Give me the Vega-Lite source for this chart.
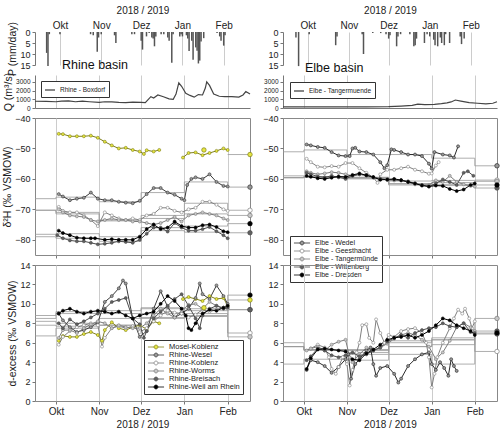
{
"$schema":"https://vega.github.io/schema/vega-lite/v6.json",
"padding":{"left":2,"top":5,"right":2,"bottom":0},
"bounds":"flush",
"columns":2,
"spacing":{"row":10,"column":33},
"resolve":{"scale":{"stroke":"independent","fill":"independent","x":"independent","y":"independent"},"legend":{"stroke":"independent","fill":"independent"}},
"config":{
 "font":"Liberation Sans",
 "view":{"stroke":"#888","strokeWidth":1},
 "axis":{"labelFont":"Liberation Sans","titleFont":"Liberation Sans","labelFontSize":9,"labelColor":"#222","titleFontSize":10.5,"titleFontWeight":"normal","titleColor":"#222","domainColor":"#777","tickColor":"#777","tickSize":3,"gridColor":"#ccc","grid":false,"labelPadding":2},
 "axisY":{"titlePadding":2},
 "legend":{"labelFont":"Liberation Sans","labelColor":"#222"},
 "title":{"font":"Liberation Sans"}
},
"datasets":{
"rp":[{"t":"2018-09-21","p":9.5},{"t":"2018-09-22","p":15.5},{"t":"2018-09-23","p":1},{"t":"2018-10-01","p":1},{"t":"2018-10-24","p":1},{"t":"2018-10-26","p":1.5},{"t":"2018-10-29","p":9},{"t":"2018-10-30","p":2.5},{"t":"2018-11-01","p":1},{"t":"2018-11-11","p":1.5},{"t":"2018-11-12","p":5},{"t":"2018-11-24","p":1},{"t":"2018-11-26","p":1},{"t":"2018-12-01","p":4},{"t":"2018-12-02","p":8},{"t":"2018-12-05","p":2},{"t":"2018-12-07","p":0.5},{"t":"2018-12-09","p":2.5},{"t":"2018-12-10","p":3},{"t":"2018-12-11","p":6.5},{"t":"2018-12-12","p":2},{"t":"2018-12-16","p":1},{"t":"2018-12-18","p":1},{"t":"2018-12-21","p":2.5},{"t":"2018-12-22","p":4},{"t":"2018-12-24","p":14},{"t":"2018-12-25","p":1},{"t":"2018-12-30","p":2},{"t":"2018-12-31","p":1},{"t":"2019-01-01","p":2},{"t":"2019-01-04","p":1.5},{"t":"2019-01-05","p":3},{"t":"2019-01-06","p":8.6},{"t":"2019-01-08","p":4},{"t":"2019-01-09","p":12.6},{"t":"2019-01-11","p":7},{"t":"2019-01-12","p":8.5},{"t":"2019-01-13","p":14.3},{"t":"2019-01-14","p":13},{"t":"2019-01-15","p":4.3},{"t":"2019-01-17","p":2.8},{"t":"2019-01-27","p":0.5},{"t":"2019-01-29","p":2},{"t":"2019-01-30","p":4},{"t":"2019-02-01","p":6.2},{"t":"2019-02-02","p":1.5}],
"ep":[{"t":"2018-09-22","p":2.5},{"t":"2018-09-24","p":15.5},{"t":"2018-10-02","p":1},{"t":"2018-10-22","p":6},{"t":"2018-10-23","p":2},{"t":"2018-11-11","p":1},{"t":"2018-11-12","p":10},{"t":"2018-11-19","p":0.5},{"t":"2018-11-25","p":0.5},{"t":"2018-11-29","p":1},{"t":"2018-12-01","p":3},{"t":"2018-12-02","p":1.5},{"t":"2018-12-07","p":6.5},{"t":"2018-12-08","p":2},{"t":"2018-12-10","p":1},{"t":"2018-12-17","p":1},{"t":"2018-12-20","p":6.5},{"t":"2018-12-21","p":6},{"t":"2018-12-22","p":3},{"t":"2018-12-28","p":5},{"t":"2018-12-30","p":1},{"t":"2019-01-01","p":2},{"t":"2019-01-04","p":3.5},{"t":"2019-01-05","p":6},{"t":"2019-01-07","p":6.5},{"t":"2019-01-09","p":2.5},{"t":"2019-01-10","p":5},{"t":"2019-01-12","p":6},{"t":"2019-01-13","p":1},{"t":"2019-01-16","p":5},{"t":"2019-01-24","p":2},{"t":"2019-01-25","p":5.5},{"t":"2019-01-27","p":3}],
"rq":[{"t":"2018-09-16","q":780},{"t":"2018-09-24","q":760},{"t":"2018-10-01","q":720},{"t":"2018-10-05","q":800},{"t":"2018-10-10","q":820},{"t":"2018-10-15","q":720},{"t":"2018-10-20","q":780},{"t":"2018-10-25","q":720},{"t":"2018-11-01","q":650},{"t":"2018-11-05","q":720},{"t":"2018-11-10","q":700},{"t":"2018-11-15","q":640},{"t":"2018-11-20","q":620},{"t":"2018-11-25","q":680},{"t":"2018-12-01","q":640},{"t":"2018-12-04","q":620},{"t":"2018-12-08","q":1300},{"t":"2018-12-10","q":1150},{"t":"2018-12-13","q":1500},{"t":"2018-12-17","q":1300},{"t":"2018-12-21","q":1050},{"t":"2018-12-24","q":1000},{"t":"2018-12-26","q":1600},{"t":"2018-12-28","q":2900},{"t":"2018-12-30","q":2500},{"t":"2019-01-02","q":1700},{"t":"2019-01-05","q":1450},{"t":"2019-01-08","q":1250},{"t":"2019-01-11","q":1550},{"t":"2019-01-14","q":1500},{"t":"2019-01-16","q":2300},{"t":"2019-01-17","q":3000},{"t":"2019-01-19","q":2600},{"t":"2019-01-22","q":1600},{"t":"2019-01-26","q":1350},{"t":"2019-01-30","q":1300},{"t":"2019-02-04","q":1300},{"t":"2019-02-09","q":1250},{"t":"2019-02-12","q":1500},{"t":"2019-02-14","q":1900},{"t":"2019-02-17","q":1600}],
"eq":[{"t":"2018-09-16","q":120},{"t":"2018-10-15","q":130},{"t":"2018-11-15","q":130},{"t":"2018-12-01","q":150},{"t":"2018-12-10","q":220},{"t":"2018-12-18","q":300},{"t":"2018-12-22","q":450},{"t":"2018-12-27","q":380},{"t":"2019-01-03","q":420},{"t":"2019-01-08","q":500},{"t":"2019-01-12","q":600},{"t":"2019-01-15","q":700},{"t":"2019-01-18","q":920},{"t":"2019-01-22","q":800},{"t":"2019-01-28","q":620},{"t":"2019-02-03","q":550},{"t":"2019-02-09","q":480},{"t":"2019-02-14","q":550},{"t":"2019-02-17","q":720}],
"rh":[
{"s":"Mosel-Koblenz","t":"2018-10-03","h":-45.2},{"s":"Mosel-Koblenz","t":"2018-10-06","h":-45.3},{"s":"Mosel-Koblenz","t":"2018-10-11","h":-46},{"s":"Mosel-Koblenz","t":"2018-10-16","h":-46},{"s":"Mosel-Koblenz","t":"2018-10-21","h":-46},{"s":"Mosel-Koblenz","t":"2018-10-26","h":-45.8},{"s":"Mosel-Koblenz","t":"2018-10-31","h":-46.5},{"s":"Mosel-Koblenz","t":"2018-11-05","h":-47.8},{"s":"Mosel-Koblenz","t":"2018-11-10","h":-49},{"s":"Mosel-Koblenz","t":"2018-11-15","h":-50},{"s":"Mosel-Koblenz","t":"2018-11-20","h":-49.8},{"s":"Mosel-Koblenz","t":"2018-11-25","h":-50.5},{"s":"Mosel-Koblenz","t":"2018-11-30","h":-51},{"s":"Mosel-Koblenz","t":"2018-12-03","h":-51.8},{"s":"Mosel-Koblenz","t":"2018-12-05","h":-50.6},{"s":"Mosel-Koblenz","t":"2018-12-10","h":-51},{"s":"Mosel-Koblenz","t":"2018-12-14","h":-50.5},
{"s":"Mosel-Koblenz","g":2,"t":"2018-12-31","h":-53},{"s":"Mosel-Koblenz","g":2,"t":"2019-01-04","h":-51.5},{"s":"Mosel-Koblenz","g":2,"t":"2019-01-09","h":-51.3},{"s":"Mosel-Koblenz","g":2,"t":"2019-01-14","h":-52.2},{"s":"Mosel-Koblenz","g":2,"t":"2019-01-19","h":-51.5},{"s":"Mosel-Koblenz","g":2,"t":"2019-01-24","h":-50.8},{"s":"Mosel-Koblenz","g":2,"t":"2019-01-29","h":-50},{"s":"Mosel-Koblenz","g":2,"t":"2019-02-01","h":-50.5},
{"s":"Rhine-Wesel","t":"2018-10-03","h":-65},{"s":"Rhine-Wesel","t":"2018-10-06","h":-65.8},{"s":"Rhine-Wesel","t":"2018-10-11","h":-67},{"s":"Rhine-Wesel","t":"2018-10-16","h":-66.5},{"s":"Rhine-Wesel","t":"2018-10-21","h":-66.2},{"s":"Rhine-Wesel","t":"2018-10-26","h":-64.5},{"s":"Rhine-Wesel","t":"2018-10-31","h":-66.5},{"s":"Rhine-Wesel","t":"2018-11-05","h":-67},{"s":"Rhine-Wesel","t":"2018-11-10","h":-67},{"s":"Rhine-Wesel","t":"2018-11-15","h":-67.5},{"s":"Rhine-Wesel","t":"2018-11-20","h":-67.8},{"s":"Rhine-Wesel","t":"2018-11-25","h":-68},{"s":"Rhine-Wesel","t":"2018-11-30","h":-67.2},{"s":"Rhine-Wesel","t":"2018-12-05","h":-65},{"s":"Rhine-Wesel","t":"2018-12-10","h":-63},{"s":"Rhine-Wesel","t":"2018-12-15","h":-63},{"s":"Rhine-Wesel","t":"2018-12-20","h":-64.5},{"s":"Rhine-Wesel","t":"2018-12-25","h":-65.2},{"s":"Rhine-Wesel","t":"2018-12-30","h":-66.5},{"s":"Rhine-Wesel","t":"2019-01-01","h":-67},{"s":"Rhine-Wesel","t":"2019-01-03","h":-62},{"s":"Rhine-Wesel","t":"2019-01-06","h":-60},{"s":"Rhine-Wesel","t":"2019-01-09","h":-59.5},{"s":"Rhine-Wesel","t":"2019-01-14","h":-60},{"s":"Rhine-Wesel","t":"2019-01-19","h":-58.5},{"s":"Rhine-Wesel","t":"2019-01-24","h":-61},{"s":"Rhine-Wesel","t":"2019-01-29","h":-62.3},{"s":"Rhine-Wesel","t":"2019-02-01","h":-62.5},
{"s":"Rhine-Koblenz","t":"2018-10-03","h":-69.2},{"s":"Rhine-Koblenz","t":"2018-10-06","h":-70.5},{"s":"Rhine-Koblenz","t":"2018-10-11","h":-71},{"s":"Rhine-Koblenz","t":"2018-10-16","h":-71},{"s":"Rhine-Koblenz","t":"2018-10-21","h":-72},{"s":"Rhine-Koblenz","t":"2018-10-26","h":-73.5},{"s":"Rhine-Koblenz","t":"2018-10-31","h":-75.5},{"s":"Rhine-Koblenz","t":"2018-11-05","h":-71},{"s":"Rhine-Koblenz","t":"2018-11-10","h":-72},{"s":"Rhine-Koblenz","t":"2018-11-15","h":-73},{"s":"Rhine-Koblenz","t":"2018-11-20","h":-73.5},{"s":"Rhine-Koblenz","t":"2018-11-25","h":-73},{"s":"Rhine-Koblenz","t":"2018-11-30","h":-73.5},{"s":"Rhine-Koblenz","t":"2018-12-05","h":-72},{"s":"Rhine-Koblenz","t":"2018-12-10","h":-71.5},{"s":"Rhine-Koblenz","t":"2018-12-15","h":-69.5},{"s":"Rhine-Koblenz","t":"2018-12-20","h":-69.5},{"s":"Rhine-Koblenz","t":"2018-12-25","h":-70.5},{"s":"Rhine-Koblenz","t":"2018-12-30","h":-71},{"s":"Rhine-Koblenz","t":"2019-01-04","h":-70},{"s":"Rhine-Koblenz","t":"2019-01-09","h":-69.5},{"s":"Rhine-Koblenz","t":"2019-01-14","h":-67.5},{"s":"Rhine-Koblenz","t":"2019-01-19","h":-67.5},{"s":"Rhine-Koblenz","t":"2019-01-24","h":-68.5},{"s":"Rhine-Koblenz","t":"2019-01-29","h":-70},{"s":"Rhine-Koblenz","t":"2019-02-01","h":-70.5},
{"s":"Rhine-Worms","t":"2018-10-03","h":-70},{"s":"Rhine-Worms","t":"2018-10-06","h":-71},{"s":"Rhine-Worms","t":"2018-10-11","h":-72},{"s":"Rhine-Worms","t":"2018-10-16","h":-72.3},{"s":"Rhine-Worms","t":"2018-10-21","h":-72.5},{"s":"Rhine-Worms","t":"2018-10-26","h":-73.5},{"s":"Rhine-Worms","t":"2018-10-31","h":-74},{"s":"Rhine-Worms","t":"2018-11-05","h":-73.5},{"s":"Rhine-Worms","t":"2018-11-10","h":-73},{"s":"Rhine-Worms","t":"2018-11-15","h":-73.5},{"s":"Rhine-Worms","t":"2018-11-20","h":-73.5},{"s":"Rhine-Worms","t":"2018-11-25","h":-74},{"s":"Rhine-Worms","t":"2018-11-30","h":-74},{"s":"Rhine-Worms","t":"2018-12-05","h":-74.5},{"s":"Rhine-Worms","t":"2018-12-10","h":-75},{"s":"Rhine-Worms","t":"2018-12-15","h":-74.5},{"s":"Rhine-Worms","t":"2018-12-20","h":-73.5},{"s":"Rhine-Worms","t":"2018-12-25","h":-72.5},{"s":"Rhine-Worms","t":"2018-12-30","h":-74},{"s":"Rhine-Worms","t":"2019-01-04","h":-72},{"s":"Rhine-Worms","t":"2019-01-09","h":-71.5},{"s":"Rhine-Worms","t":"2019-01-14","h":-71},{"s":"Rhine-Worms","t":"2019-01-19","h":-71.5},{"s":"Rhine-Worms","t":"2019-01-24","h":-72},{"s":"Rhine-Worms","t":"2019-01-29","h":-73},{"s":"Rhine-Worms","t":"2019-02-01","h":-73.5},
{"s":"Rhine-Breisach","t":"2018-10-02","h":-78.5},{"s":"Rhine-Breisach","t":"2018-10-06","h":-79.5},{"s":"Rhine-Breisach","t":"2018-10-11","h":-80.2},{"s":"Rhine-Breisach","t":"2018-10-16","h":-80.5},{"s":"Rhine-Breisach","t":"2018-10-21","h":-80.5},{"s":"Rhine-Breisach","t":"2018-10-26","h":-81},{"s":"Rhine-Breisach","t":"2018-10-31","h":-81.5},{"s":"Rhine-Breisach","t":"2018-11-05","h":-81.3},{"s":"Rhine-Breisach","t":"2018-11-10","h":-81},{"s":"Rhine-Breisach","t":"2018-11-15","h":-80.5},{"s":"Rhine-Breisach","t":"2018-11-20","h":-80.7},{"s":"Rhine-Breisach","t":"2018-11-25","h":-81},{"s":"Rhine-Breisach","t":"2018-11-30","h":-80},{"s":"Rhine-Breisach","t":"2018-12-05","h":-78},{"s":"Rhine-Breisach","t":"2018-12-10","h":-76},{"s":"Rhine-Breisach","t":"2018-12-15","h":-76},{"s":"Rhine-Breisach","t":"2018-12-20","h":-77.3},{"s":"Rhine-Breisach","t":"2018-12-25","h":-74.5},{"s":"Rhine-Breisach","t":"2018-12-30","h":-76},{"s":"Rhine-Breisach","t":"2019-01-04","h":-77},{"s":"Rhine-Breisach","t":"2019-01-09","h":-77},{"s":"Rhine-Breisach","t":"2019-01-14","h":-76.5},{"s":"Rhine-Breisach","t":"2019-01-19","h":-75.8},{"s":"Rhine-Breisach","t":"2019-01-24","h":-77.2},{"s":"Rhine-Breisach","t":"2019-01-29","h":-78.5},{"s":"Rhine-Breisach","t":"2019-02-01","h":-79.5},
{"s":"Rhine-Weil am Rhein","t":"2018-10-03","h":-77},{"s":"Rhine-Weil am Rhein","t":"2018-10-06","h":-77.8},{"s":"Rhine-Weil am Rhein","t":"2018-10-11","h":-78.5},{"s":"Rhine-Weil am Rhein","t":"2018-10-16","h":-79.3},{"s":"Rhine-Weil am Rhein","t":"2018-10-21","h":-79.5},{"s":"Rhine-Weil am Rhein","t":"2018-10-26","h":-79.5},{"s":"Rhine-Weil am Rhein","t":"2018-10-29","h":-79.5},{"s":"Rhine-Weil am Rhein","t":"2018-11-05","h":-80},{"s":"Rhine-Weil am Rhein","t":"2018-11-10","h":-79.8},{"s":"Rhine-Weil am Rhein","t":"2018-11-15","h":-80},{"s":"Rhine-Weil am Rhein","t":"2018-11-20","h":-80},{"s":"Rhine-Weil am Rhein","t":"2018-11-25","h":-80},{"s":"Rhine-Weil am Rhein","t":"2018-11-30","h":-79},{"s":"Rhine-Weil am Rhein","t":"2018-12-05","h":-76.5},{"s":"Rhine-Weil am Rhein","t":"2018-12-10","h":-75},{"s":"Rhine-Weil am Rhein","t":"2018-12-15","h":-76.5},{"s":"Rhine-Weil am Rhein","t":"2018-12-20","h":-76},{"s":"Rhine-Weil am Rhein","t":"2018-12-25","h":-74},{"s":"Rhine-Weil am Rhein","t":"2018-12-30","h":-75.5},{"s":"Rhine-Weil am Rhein","t":"2019-01-04","h":-76},{"s":"Rhine-Weil am Rhein","t":"2019-01-09","h":-76},{"s":"Rhine-Weil am Rhein","t":"2019-01-14","h":-75.2},{"s":"Rhine-Weil am Rhein","t":"2019-01-19","h":-75},{"s":"Rhine-Weil am Rhein","t":"2019-01-24","h":-75.8},{"s":"Rhine-Weil am Rhein","t":"2019-01-29","h":-77.2},{"s":"Rhine-Weil am Rhein","t":"2019-02-01","h":-77.5}
],
"rd":[
{"s":"Mosel-Koblenz","t":"2018-10-03","d":6.2},{"s":"Mosel-Koblenz","t":"2018-10-06","d":6.7},{"s":"Mosel-Koblenz","t":"2018-10-11","d":6.6},{"s":"Mosel-Koblenz","t":"2018-10-16","d":6.6},{"s":"Mosel-Koblenz","t":"2018-10-21","d":6.9},{"s":"Mosel-Koblenz","t":"2018-10-26","d":7.1},{"s":"Mosel-Koblenz","t":"2018-10-31","d":6.8},{"s":"Mosel-Koblenz","t":"2018-11-03","d":6.2},{"s":"Mosel-Koblenz","t":"2018-11-05","d":7.3},{"s":"Mosel-Koblenz","t":"2018-11-10","d":8.1},{"s":"Mosel-Koblenz","t":"2018-11-15","d":7.5},{"s":"Mosel-Koblenz","t":"2018-11-20","d":7.3},{"s":"Mosel-Koblenz","t":"2018-11-25","d":7.6},{"s":"Mosel-Koblenz","t":"2018-11-30","d":7.8},{"s":"Mosel-Koblenz","t":"2018-12-05","d":7.4},{"s":"Mosel-Koblenz","t":"2018-12-10","d":8.2},{"s":"Mosel-Koblenz","t":"2018-12-14","d":8.0},
{"s":"Mosel-Koblenz","g":2,"t":"2018-12-31","d":10.5},{"s":"Mosel-Koblenz","g":2,"t":"2019-01-04","d":10.7},{"s":"Mosel-Koblenz","g":2,"t":"2019-01-09","d":10.5},{"s":"Mosel-Koblenz","g":2,"t":"2019-01-14","d":10.3},{"s":"Mosel-Koblenz","g":2,"t":"2019-01-19","d":10.8},{"s":"Mosel-Koblenz","g":2,"t":"2019-01-24","d":10.5},{"s":"Mosel-Koblenz","g":2,"t":"2019-01-29","d":10.6},{"s":"Mosel-Koblenz","g":2,"t":"2019-02-01","d":9.8},
{"s":"Rhine-Wesel","t":"2018-10-03","d":9.0},{"s":"Rhine-Wesel","t":"2018-10-06","d":8.3},{"s":"Rhine-Wesel","t":"2018-10-11","d":7.6},{"s":"Rhine-Wesel","t":"2018-10-16","d":7.1},{"s":"Rhine-Wesel","t":"2018-10-21","d":7.3},{"s":"Rhine-Wesel","t":"2018-10-26","d":7.6},{"s":"Rhine-Wesel","t":"2018-10-31","d":8.1},{"s":"Rhine-Wesel","t":"2018-11-05","d":10.2},{"s":"Rhine-Wesel","t":"2018-11-10","d":10.8},{"s":"Rhine-Wesel","t":"2018-11-15","d":11.6},{"s":"Rhine-Wesel","t":"2018-11-18","d":12.4},{"s":"Rhine-Wesel","t":"2018-11-20","d":12.1},{"s":"Rhine-Wesel","t":"2018-11-25","d":8.5},{"s":"Rhine-Wesel","t":"2018-11-30","d":6.6},{"s":"Rhine-Wesel","t":"2018-12-05","d":7.2},{"s":"Rhine-Wesel","t":"2018-12-10","d":9.5},{"s":"Rhine-Wesel","t":"2018-12-15","d":11.3},{"s":"Rhine-Wesel","t":"2018-12-20","d":9.7},{"s":"Rhine-Wesel","t":"2018-12-25","d":8.6},{"s":"Rhine-Wesel","t":"2018-12-30","d":9.0},{"s":"Rhine-Wesel","t":"2019-01-04","d":9.5},{"s":"Rhine-Wesel","t":"2019-01-09","d":10.6},{"s":"Rhine-Wesel","t":"2019-01-12","d":12.1},{"s":"Rhine-Wesel","t":"2019-01-14","d":11.0},{"s":"Rhine-Wesel","t":"2019-01-19","d":10.5},{"s":"Rhine-Wesel","t":"2019-01-24","d":11.9},{"s":"Rhine-Wesel","t":"2019-01-29","d":10.8},{"s":"Rhine-Wesel","t":"2019-02-01","d":10.0},
{"s":"Rhine-Koblenz","t":"2018-10-03","d":5.8},{"s":"Rhine-Koblenz","t":"2018-10-06","d":6.6},{"s":"Rhine-Koblenz","t":"2018-10-11","d":7.2},{"s":"Rhine-Koblenz","t":"2018-10-16","d":7.6},{"s":"Rhine-Koblenz","t":"2018-10-21","d":7.8},{"s":"Rhine-Koblenz","t":"2018-10-26","d":8.0},{"s":"Rhine-Koblenz","t":"2018-10-31","d":7.8},{"s":"Rhine-Koblenz","t":"2018-11-03","d":5.6},{"s":"Rhine-Koblenz","t":"2018-11-05","d":6.5},{"s":"Rhine-Koblenz","t":"2018-11-10","d":7.5},{"s":"Rhine-Koblenz","t":"2018-11-15","d":7.7},{"s":"Rhine-Koblenz","t":"2018-11-20","d":7.5},{"s":"Rhine-Koblenz","t":"2018-11-25","d":7.7},{"s":"Rhine-Koblenz","t":"2018-11-30","d":7.1},{"s":"Rhine-Koblenz","t":"2018-12-05","d":7.5},{"s":"Rhine-Koblenz","t":"2018-12-10","d":8.2},{"s":"Rhine-Koblenz","t":"2018-12-15","d":8.8},{"s":"Rhine-Koblenz","t":"2018-12-20","d":9.3},{"s":"Rhine-Koblenz","t":"2018-12-25","d":9.1},{"s":"Rhine-Koblenz","t":"2018-12-30","d":9.0},{"s":"Rhine-Koblenz","t":"2019-01-04","d":8.6},{"s":"Rhine-Koblenz","t":"2019-01-09","d":8.9},{"s":"Rhine-Koblenz","t":"2019-01-14","d":9.4},{"s":"Rhine-Koblenz","t":"2019-01-19","d":9.2},{"s":"Rhine-Koblenz","t":"2019-01-24","d":9.4},{"s":"Rhine-Koblenz","t":"2019-01-29","d":9.6},{"s":"Rhine-Koblenz","t":"2019-02-01","d":9.5},
{"s":"Rhine-Worms","t":"2018-10-03","d":6.5},{"s":"Rhine-Worms","t":"2018-10-06","d":7.3},{"s":"Rhine-Worms","t":"2018-10-11","d":7.3},{"s":"Rhine-Worms","t":"2018-10-16","d":7.0},{"s":"Rhine-Worms","t":"2018-10-21","d":7.5},{"s":"Rhine-Worms","t":"2018-10-26","d":7.9},{"s":"Rhine-Worms","t":"2018-10-31","d":8.2},{"s":"Rhine-Worms","t":"2018-11-05","d":8.0},{"s":"Rhine-Worms","t":"2018-11-10","d":7.5},{"s":"Rhine-Worms","t":"2018-11-15","d":7.8},{"s":"Rhine-Worms","t":"2018-11-20","d":7.6},{"s":"Rhine-Worms","t":"2018-11-25","d":7.5},{"s":"Rhine-Worms","t":"2018-11-30","d":7.5},{"s":"Rhine-Worms","t":"2018-12-05","d":8.0},{"s":"Rhine-Worms","t":"2018-12-10","d":8.8},{"s":"Rhine-Worms","t":"2018-12-15","d":9.5},{"s":"Rhine-Worms","t":"2018-12-20","d":9.0},{"s":"Rhine-Worms","t":"2018-12-25","d":8.6},{"s":"Rhine-Worms","t":"2018-12-30","d":9.3},{"s":"Rhine-Worms","t":"2019-01-04","d":9.9},{"s":"Rhine-Worms","t":"2019-01-09","d":10.0},{"s":"Rhine-Worms","t":"2019-01-14","d":9.5},{"s":"Rhine-Worms","t":"2019-01-19","d":10.2},{"s":"Rhine-Worms","t":"2019-01-24","d":9.8},{"s":"Rhine-Worms","t":"2019-01-29","d":9.6},{"s":"Rhine-Worms","t":"2019-02-01","d":9.7},
{"s":"Rhine-Breisach","t":"2018-10-03","d":8.0},{"s":"Rhine-Breisach","t":"2018-10-06","d":7.5},{"s":"Rhine-Breisach","t":"2018-10-11","d":8.4},{"s":"Rhine-Breisach","t":"2018-10-16","d":7.9},{"s":"Rhine-Breisach","t":"2018-10-21","d":8.2},{"s":"Rhine-Breisach","t":"2018-10-26","d":8.6},{"s":"Rhine-Breisach","t":"2018-10-31","d":9.0},{"s":"Rhine-Breisach","t":"2018-11-05","d":9.5},{"s":"Rhine-Breisach","t":"2018-11-10","d":10.2},{"s":"Rhine-Breisach","t":"2018-11-15","d":10.4},{"s":"Rhine-Breisach","t":"2018-11-20","d":10.6},{"s":"Rhine-Breisach","t":"2018-11-25","d":8.5},{"s":"Rhine-Breisach","t":"2018-11-30","d":7.9},{"s":"Rhine-Breisach","t":"2018-12-03","d":6.5},{"s":"Rhine-Breisach","t":"2018-12-05","d":7.2},{"s":"Rhine-Breisach","t":"2018-12-10","d":8.5},{"s":"Rhine-Breisach","t":"2018-12-15","d":9.2},{"s":"Rhine-Breisach","t":"2018-12-20","d":9.8},{"s":"Rhine-Breisach","t":"2018-12-25","d":10.5},{"s":"Rhine-Breisach","t":"2018-12-30","d":11.0},{"s":"Rhine-Breisach","t":"2019-01-04","d":9.8},{"s":"Rhine-Breisach","t":"2019-01-09","d":8.5},{"s":"Rhine-Breisach","t":"2019-01-12","d":7.5},{"s":"Rhine-Breisach","t":"2019-01-14","d":8.8},{"s":"Rhine-Breisach","t":"2019-01-19","d":9.5},{"s":"Rhine-Breisach","t":"2019-01-24","d":9.8},{"s":"Rhine-Breisach","t":"2019-01-29","d":9.5},{"s":"Rhine-Breisach","t":"2019-02-01","d":9.6},
{"s":"Rhine-Weil am Rhein","t":"2018-10-03","d":9.0},{"s":"Rhine-Weil am Rhein","t":"2018-10-06","d":9.3},{"s":"Rhine-Weil am Rhein","t":"2018-10-11","d":9.5},{"s":"Rhine-Weil am Rhein","t":"2018-10-16","d":9.2},{"s":"Rhine-Weil am Rhein","t":"2018-10-21","d":9.0},{"s":"Rhine-Weil am Rhein","t":"2018-10-26","d":9.2},{"s":"Rhine-Weil am Rhein","t":"2018-10-31","d":9.3},{"s":"Rhine-Weil am Rhein","t":"2018-11-05","d":9.2},{"s":"Rhine-Weil am Rhein","t":"2018-11-10","d":9.0},{"s":"Rhine-Weil am Rhein","t":"2018-11-15","d":9.2},{"s":"Rhine-Weil am Rhein","t":"2018-11-20","d":8.8},{"s":"Rhine-Weil am Rhein","t":"2018-11-25","d":8.5},{"s":"Rhine-Weil am Rhein","t":"2018-11-30","d":8.8},{"s":"Rhine-Weil am Rhein","t":"2018-12-05","d":9.0},{"s":"Rhine-Weil am Rhein","t":"2018-12-10","d":9.2},{"s":"Rhine-Weil am Rhein","t":"2018-12-15","d":10.0},{"s":"Rhine-Weil am Rhein","t":"2018-12-20","d":10.8},{"s":"Rhine-Weil am Rhein","t":"2018-12-25","d":10.3},{"s":"Rhine-Weil am Rhein","t":"2018-12-30","d":9.5},{"s":"Rhine-Weil am Rhein","t":"2019-01-02","d":8.8},{"s":"Rhine-Weil am Rhein","t":"2019-01-04","d":7.5},{"s":"Rhine-Weil am Rhein","t":"2019-01-06","d":7.3},{"s":"Rhine-Weil am Rhein","t":"2019-01-09","d":8.0},{"s":"Rhine-Weil am Rhein","t":"2019-01-14","d":9.0},{"s":"Rhine-Weil am Rhein","t":"2019-01-19","d":9.4},{"s":"Rhine-Weil am Rhein","t":"2019-01-24","d":9.3},{"s":"Rhine-Weil am Rhein","t":"2019-01-29","d":9.6},{"s":"Rhine-Weil am Rhein","t":"2019-02-01","d":9.8}
],
"eh":[
{"s":"Elbe - Wedel","t":"2018-10-03","h":-48.7},{"s":"Elbe - Wedel","t":"2018-10-06","h":-49},{"s":"Elbe - Wedel","t":"2018-10-11","h":-49.5},{"s":"Elbe - Wedel","t":"2018-10-16","h":-49.8},{"s":"Elbe - Wedel","t":"2018-10-21","h":-51.2},{"s":"Elbe - Wedel","t":"2018-10-26","h":-52.3},{"s":"Elbe - Wedel","t":"2018-10-31","h":-52.5},{"s":"Elbe - Wedel","t":"2018-11-03","h":-52.5},{"s":"Elbe - Wedel","t":"2018-11-05","h":-50},{"s":"Elbe - Wedel","t":"2018-11-07","h":-49.8},{"s":"Elbe - Wedel","t":"2018-11-10","h":-51},{"s":"Elbe - Wedel","t":"2018-11-15","h":-51.2},{"s":"Elbe - Wedel","t":"2018-11-20","h":-52},{"s":"Elbe - Wedel","t":"2018-11-25","h":-54.5},{"s":"Elbe - Wedel","t":"2018-11-28","h":-56.5},{"s":"Elbe - Wedel","t":"2018-11-30","h":-55.5},{"s":"Elbe - Wedel","t":"2018-12-03","h":-50.3},{"s":"Elbe - Wedel","t":"2018-12-05","h":-50.5},{"s":"Elbe - Wedel","t":"2018-12-10","h":-51.2},{"s":"Elbe - Wedel","t":"2018-12-15","h":-52},{"s":"Elbe - Wedel","t":"2018-12-20","h":-52},{"s":"Elbe - Wedel","t":"2018-12-25","h":-52.5},{"s":"Elbe - Wedel","t":"2018-12-30","h":-55},{"s":"Elbe - Wedel","t":"2019-01-01","h":-56.6},{"s":"Elbe - Wedel","t":"2019-01-03","h":-51.2},{"s":"Elbe - Wedel","t":"2019-01-09","h":-52},{"s":"Elbe - Wedel","t":"2019-01-14","h":-52.3},{"s":"Elbe - Wedel","t":"2019-01-17","h":-53},{"s":"Elbe - Wedel","t":"2019-01-20","h":-49.3},
{"s":"Elbe - Geesthacht","t":"2018-10-03","h":-53.4},{"s":"Elbe - Geesthacht","t":"2018-10-06","h":-54.5},{"s":"Elbe - Geesthacht","t":"2018-10-11","h":-56},{"s":"Elbe - Geesthacht","t":"2018-10-16","h":-56.2},{"s":"Elbe - Geesthacht","t":"2018-10-21","h":-55.8},{"s":"Elbe - Geesthacht","t":"2018-10-26","h":-56},{"s":"Elbe - Geesthacht","t":"2018-10-31","h":-54.8},{"s":"Elbe - Geesthacht","t":"2018-11-05","h":-54.8},{"s":"Elbe - Geesthacht","t":"2018-11-10","h":-56.5},{"s":"Elbe - Geesthacht","t":"2018-11-15","h":-58},{"s":"Elbe - Geesthacht","t":"2018-11-20","h":-59.5},{"s":"Elbe - Geesthacht","t":"2018-11-23","h":-61.3},{"s":"Elbe - Geesthacht","t":"2018-11-25","h":-58.5},{"s":"Elbe - Geesthacht","t":"2018-11-30","h":-57},{"s":"Elbe - Geesthacht","t":"2018-12-05","h":-57},{"s":"Elbe - Geesthacht","t":"2018-12-10","h":-56.5},{"s":"Elbe - Geesthacht","t":"2018-12-15","h":-56},{"s":"Elbe - Geesthacht","t":"2018-12-20","h":-57},{"s":"Elbe - Geesthacht","t":"2018-12-25","h":-57.5},{"s":"Elbe - Geesthacht","t":"2018-12-30","h":-58.3},{"s":"Elbe - Geesthacht","t":"2019-01-01","h":-58.2},{"s":"Elbe - Geesthacht","t":"2019-01-04","h":-55.6},{"s":"Elbe - Geesthacht","t":"2019-01-06","h":-54.5},
{"s":"Elbe - Tangermünde","t":"2018-10-03","h":-57.5},{"s":"Elbe - Tangermünde","t":"2018-10-06","h":-58},{"s":"Elbe - Tangermünde","t":"2018-10-11","h":-58.5},{"s":"Elbe - Tangermünde","t":"2018-10-16","h":-58.2},{"s":"Elbe - Tangermünde","t":"2018-10-21","h":-57.8},{"s":"Elbe - Tangermünde","t":"2018-10-26","h":-58},{"s":"Elbe - Tangermünde","t":"2018-10-31","h":-58.5},{"s":"Elbe - Tangermünde","t":"2018-11-05","h":-59},{"s":"Elbe - Tangermünde","t":"2018-11-10","h":-58.5},{"s":"Elbe - Tangermünde","t":"2018-11-15","h":-59},{"s":"Elbe - Tangermünde","t":"2018-11-20","h":-59.5},{"s":"Elbe - Tangermünde","t":"2018-11-25","h":-60},{"s":"Elbe - Tangermünde","t":"2018-11-30","h":-60.3},{"s":"Elbe - Tangermünde","t":"2018-12-05","h":-60.5},{"s":"Elbe - Tangermünde","t":"2018-12-10","h":-60.5},{"s":"Elbe - Tangermünde","t":"2018-12-15","h":-61},{"s":"Elbe - Tangermünde","t":"2018-12-20","h":-61.8},{"s":"Elbe - Tangermünde","t":"2018-12-25","h":-62},{"s":"Elbe - Tangermünde","t":"2018-12-30","h":-62},{"s":"Elbe - Tangermünde","t":"2019-01-04","h":-60.5},{"s":"Elbe - Tangermünde","t":"2019-01-09","h":-61},{"s":"Elbe - Tangermünde","t":"2019-01-14","h":-59},{"s":"Elbe - Tangermünde","t":"2019-01-19","h":-61},{"s":"Elbe - Tangermünde","t":"2019-01-24","h":-61.8},{"s":"Elbe - Tangermünde","t":"2019-01-29","h":-62.3},{"s":"Elbe - Tangermünde","t":"2019-02-01","h":-62.5},
{"s":"Elbe - Wittenberg","t":"2018-10-03","h":-58},{"s":"Elbe - Wittenberg","t":"2018-10-06","h":-58.5},{"s":"Elbe - Wittenberg","t":"2018-10-11","h":-59.2},{"s":"Elbe - Wittenberg","t":"2018-10-16","h":-59.5},{"s":"Elbe - Wittenberg","t":"2018-10-21","h":-59},{"s":"Elbe - Wittenberg","t":"2018-10-26","h":-59.5},{"s":"Elbe - Wittenberg","t":"2018-10-31","h":-60},{"s":"Elbe - Wittenberg","t":"2018-11-05","h":-59},{"s":"Elbe - Wittenberg","t":"2018-11-10","h":-58.5},{"s":"Elbe - Wittenberg","t":"2018-11-15","h":-58.7},{"s":"Elbe - Wittenberg","t":"2018-11-20","h":-59.5},{"s":"Elbe - Wittenberg","t":"2018-11-25","h":-60},{"s":"Elbe - Wittenberg","t":"2018-11-30","h":-60.3},{"s":"Elbe - Wittenberg","t":"2018-12-05","h":-60.2},{"s":"Elbe - Wittenberg","t":"2018-12-10","h":-60.5},{"s":"Elbe - Wittenberg","t":"2018-12-15","h":-60.8},{"s":"Elbe - Wittenberg","t":"2018-12-20","h":-61.5},{"s":"Elbe - Wittenberg","t":"2018-12-25","h":-62},{"s":"Elbe - Wittenberg","t":"2018-12-30","h":-62.5},{"s":"Elbe - Wittenberg","t":"2019-01-04","h":-61.5},{"s":"Elbe - Wittenberg","t":"2019-01-09","h":-60.2},{"s":"Elbe - Wittenberg","t":"2019-01-14","h":-61},{"s":"Elbe - Wittenberg","t":"2019-01-19","h":-62},{"s":"Elbe - Wittenberg","t":"2019-01-24","h":-58},{"s":"Elbe - Wittenberg","t":"2019-01-27","h":-57.5},{"s":"Elbe - Wittenberg","t":"2019-01-31","h":-59},
{"s":"Elbe - Dresden","t":"2018-10-03","h":-59},{"s":"Elbe - Dresden","t":"2018-10-06","h":-59.3},{"s":"Elbe - Dresden","t":"2018-10-11","h":-59.8},{"s":"Elbe - Dresden","t":"2018-10-16","h":-60},{"s":"Elbe - Dresden","t":"2018-10-21","h":-59.6},{"s":"Elbe - Dresden","t":"2018-10-26","h":-59.2},{"s":"Elbe - Dresden","t":"2018-10-31","h":-59.4},{"s":"Elbe - Dresden","t":"2018-11-05","h":-58.7},{"s":"Elbe - Dresden","t":"2018-11-10","h":-58.2},{"s":"Elbe - Dresden","t":"2018-11-15","h":-58.8},{"s":"Elbe - Dresden","t":"2018-11-20","h":-59.4},{"s":"Elbe - Dresden","t":"2018-11-25","h":-60.3},{"s":"Elbe - Dresden","t":"2018-11-30","h":-60.2},{"s":"Elbe - Dresden","t":"2018-12-05","h":-60},{"s":"Elbe - Dresden","t":"2018-12-10","h":-60.4},{"s":"Elbe - Dresden","t":"2018-12-15","h":-61},{"s":"Elbe - Dresden","t":"2018-12-20","h":-61.5},{"s":"Elbe - Dresden","t":"2018-12-25","h":-62.2},{"s":"Elbe - Dresden","t":"2018-12-30","h":-62.5},{"s":"Elbe - Dresden","t":"2019-01-04","h":-62.2},{"s":"Elbe - Dresden","t":"2019-01-09","h":-62.3},{"s":"Elbe - Dresden","t":"2019-01-14","h":-63.3},{"s":"Elbe - Dresden","t":"2019-01-19","h":-64},{"s":"Elbe - Dresden","t":"2019-01-24","h":-63.5},{"s":"Elbe - Dresden","t":"2019-01-29","h":-62},{"s":"Elbe - Dresden","t":"2019-02-01","h":-61.5}
],
"ed":[
{"s":"Elbe - Wedel","t":"2018-10-03","d":3.2},{"s":"Elbe - Wedel","t":"2018-10-06","d":4.2},{"s":"Elbe - Wedel","t":"2018-10-11","d":4.0},{"s":"Elbe - Wedel","t":"2018-10-16","d":3.6},{"s":"Elbe - Wedel","t":"2018-10-21","d":2.9},{"s":"Elbe - Wedel","t":"2018-10-26","d":3.5},{"s":"Elbe - Wedel","t":"2018-10-31","d":4.3},{"s":"Elbe - Wedel","t":"2018-11-02","d":4.8},{"s":"Elbe - Wedel","t":"2018-11-04","d":2.3},{"s":"Elbe - Wedel","t":"2018-11-07","d":3.8},{"s":"Elbe - Wedel","t":"2018-11-10","d":4.3},{"s":"Elbe - Wedel","t":"2018-11-15","d":5.2},{"s":"Elbe - Wedel","t":"2018-11-18","d":5.5},{"s":"Elbe - Wedel","t":"2018-11-20","d":3.8},{"s":"Elbe - Wedel","t":"2018-11-22","d":2.6},{"s":"Elbe - Wedel","t":"2018-11-25","d":3.4},{"s":"Elbe - Wedel","t":"2018-11-30","d":3.6},{"s":"Elbe - Wedel","t":"2018-12-05","d":2.8},{"s":"Elbe - Wedel","t":"2018-12-08","d":1.9},{"s":"Elbe - Wedel","t":"2018-12-10","d":2.3},{"s":"Elbe - Wedel","t":"2018-12-15","d":3.6},{"s":"Elbe - Wedel","t":"2018-12-20","d":4.3},{"s":"Elbe - Wedel","t":"2018-12-25","d":4.8},{"s":"Elbe - Wedel","t":"2018-12-30","d":5.0},{"s":"Elbe - Wedel","t":"2019-01-01","d":3.8},{"s":"Elbe - Wedel","t":"2019-01-04","d":3.2},{"s":"Elbe - Wedel","t":"2019-01-07","d":4.0},{"s":"Elbe - Wedel","t":"2019-01-10","d":3.4},{"s":"Elbe - Wedel","t":"2019-01-13","d":2.6},{"s":"Elbe - Wedel","t":"2019-01-15","d":4.3},{"s":"Elbe - Wedel","t":"2019-01-17","d":3.6},{"s":"Elbe - Wedel","t":"2019-01-19","d":3.1},
{"s":"Elbe - Geesthacht","t":"2018-10-06","d":5.4},{"s":"Elbe - Geesthacht","t":"2018-10-11","d":5.8},{"s":"Elbe - Geesthacht","t":"2018-10-16","d":5.5},{"s":"Elbe - Geesthacht","t":"2018-10-19","d":4.5},{"s":"Elbe - Geesthacht","t":"2018-10-21","d":3.3},{"s":"Elbe - Geesthacht","t":"2018-10-24","d":2.8},{"s":"Elbe - Geesthacht","t":"2018-10-26","d":3.5},{"s":"Elbe - Geesthacht","t":"2018-10-29","d":4.5},{"s":"Elbe - Geesthacht","t":"2018-11-01","d":3.8},{"s":"Elbe - Geesthacht","t":"2018-11-03","d":1.6},{"s":"Elbe - Geesthacht","t":"2018-11-05","d":3.2},{"s":"Elbe - Geesthacht","t":"2018-11-08","d":5.0},{"s":"Elbe - Geesthacht","t":"2018-11-10","d":6.0},{"s":"Elbe - Geesthacht","t":"2018-11-12","d":7.8},{"s":"Elbe - Geesthacht","t":"2018-11-15","d":7.9},{"s":"Elbe - Geesthacht","t":"2018-11-17","d":6.5},{"s":"Elbe - Geesthacht","t":"2018-11-20","d":6.0},{"s":"Elbe - Geesthacht","t":"2018-11-22","d":8.4},{"s":"Elbe - Geesthacht","t":"2018-11-25","d":7.0},{"s":"Elbe - Geesthacht","t":"2018-11-28","d":6.0},{"s":"Elbe - Geesthacht","t":"2018-12-01","d":6.8},{"s":"Elbe - Geesthacht","t":"2018-12-05","d":6.6},{"s":"Elbe - Geesthacht","t":"2018-12-10","d":7.2},{"s":"Elbe - Geesthacht","t":"2018-12-15","d":7.4},{"s":"Elbe - Geesthacht","t":"2018-12-20","d":7.5},{"s":"Elbe - Geesthacht","t":"2018-12-25","d":7.0},{"s":"Elbe - Geesthacht","t":"2018-12-28","d":6.0},{"s":"Elbe - Geesthacht","t":"2018-12-30","d":4.5},{"s":"Elbe - Geesthacht","t":"2019-01-01","d":1.4},{"s":"Elbe - Geesthacht","t":"2019-01-03","d":2.8},{"s":"Elbe - Geesthacht","t":"2019-01-05","d":4.5},{"s":"Elbe - Geesthacht","t":"2019-01-09","d":6.0},{"s":"Elbe - Geesthacht","t":"2019-01-14","d":7.5},{"s":"Elbe - Geesthacht","t":"2019-01-17","d":8.5},{"s":"Elbe - Geesthacht","t":"2019-01-20","d":9.4},{"s":"Elbe - Geesthacht","t":"2019-01-23","d":9.0},{"s":"Elbe - Geesthacht","t":"2019-01-25","d":9.5},{"s":"Elbe - Geesthacht","t":"2019-01-28","d":8.5},{"s":"Elbe - Geesthacht","t":"2019-01-30","d":7.5},{"s":"Elbe - Geesthacht","t":"2019-02-01","d":8.2},
{"s":"Elbe - Tangermünde","t":"2018-10-03","d":5.2},{"s":"Elbe - Tangermünde","t":"2018-10-06","d":5.4},{"s":"Elbe - Tangermünde","t":"2018-10-11","d":5.6},{"s":"Elbe - Tangermünde","t":"2018-10-16","d":5.2},{"s":"Elbe - Tangermünde","t":"2018-10-21","d":5.8},{"s":"Elbe - Tangermünde","t":"2018-10-26","d":6.1},{"s":"Elbe - Tangermünde","t":"2018-10-31","d":6.3},{"s":"Elbe - Tangermünde","t":"2018-11-03","d":4.5},{"s":"Elbe - Tangermünde","t":"2018-11-05","d":4.0},{"s":"Elbe - Tangermünde","t":"2018-11-10","d":4.8},{"s":"Elbe - Tangermünde","t":"2018-11-15","d":5.5},{"s":"Elbe - Tangermünde","t":"2018-11-20","d":5.2},{"s":"Elbe - Tangermünde","t":"2018-11-25","d":5.5},{"s":"Elbe - Tangermünde","t":"2018-11-30","d":5.9},{"s":"Elbe - Tangermünde","t":"2018-12-05","d":6.4},{"s":"Elbe - Tangermünde","t":"2018-12-10","d":6.8},{"s":"Elbe - Tangermünde","t":"2018-12-15","d":7.0},{"s":"Elbe - Tangermünde","t":"2018-12-20","d":6.8},{"s":"Elbe - Tangermünde","t":"2018-12-25","d":6.3},{"s":"Elbe - Tangermünde","t":"2018-12-30","d":5.6},{"s":"Elbe - Tangermünde","t":"2019-01-04","d":4.3},{"s":"Elbe - Tangermünde","t":"2019-01-09","d":5.0},{"s":"Elbe - Tangermünde","t":"2019-01-14","d":6.2},{"s":"Elbe - Tangermünde","t":"2019-01-19","d":7.6},{"s":"Elbe - Tangermünde","t":"2019-01-24","d":8.0},{"s":"Elbe - Tangermünde","t":"2019-01-29","d":7.6},{"s":"Elbe - Tangermünde","t":"2019-02-01","d":7.2},
{"s":"Elbe - Wittenberg","t":"2018-10-03","d":4.2},{"s":"Elbe - Wittenberg","t":"2018-10-06","d":4.6},{"s":"Elbe - Wittenberg","t":"2018-10-11","d":5.4},{"s":"Elbe - Wittenberg","t":"2018-10-16","d":5.2},{"s":"Elbe - Wittenberg","t":"2018-10-21","d":4.7},{"s":"Elbe - Wittenberg","t":"2018-10-26","d":4.5},{"s":"Elbe - Wittenberg","t":"2018-10-31","d":4.7},{"s":"Elbe - Wittenberg","t":"2018-11-05","d":5.0},{"s":"Elbe - Wittenberg","t":"2018-11-10","d":4.6},{"s":"Elbe - Wittenberg","t":"2018-11-15","d":4.8},{"s":"Elbe - Wittenberg","t":"2018-11-20","d":5.2},{"s":"Elbe - Wittenberg","t":"2018-11-25","d":5.5},{"s":"Elbe - Wittenberg","t":"2018-11-30","d":6.1},{"s":"Elbe - Wittenberg","t":"2018-12-05","d":6.5},{"s":"Elbe - Wittenberg","t":"2018-12-10","d":6.8},{"s":"Elbe - Wittenberg","t":"2018-12-15","d":6.5},{"s":"Elbe - Wittenberg","t":"2018-12-20","d":7.0},{"s":"Elbe - Wittenberg","t":"2018-12-25","d":7.3},{"s":"Elbe - Wittenberg","t":"2018-12-30","d":7.5},{"s":"Elbe - Wittenberg","t":"2019-01-04","d":7.6},{"s":"Elbe - Wittenberg","t":"2019-01-09","d":8.0},{"s":"Elbe - Wittenberg","t":"2019-01-14","d":7.7},{"s":"Elbe - Wittenberg","t":"2019-01-19","d":7.6},{"s":"Elbe - Wittenberg","t":"2019-01-24","d":8.0},{"s":"Elbe - Wittenberg","t":"2019-01-29","d":7.1},{"s":"Elbe - Wittenberg","t":"2019-02-01","d":7.0},
{"s":"Elbe - Dresden","t":"2018-10-03","d":3.3},{"s":"Elbe - Dresden","t":"2018-10-06","d":4.4},{"s":"Elbe - Dresden","t":"2018-10-11","d":5.3},{"s":"Elbe - Dresden","t":"2018-10-16","d":5.4},{"s":"Elbe - Dresden","t":"2018-10-21","d":5.3},{"s":"Elbe - Dresden","t":"2018-10-26","d":5.2},{"s":"Elbe - Dresden","t":"2018-10-31","d":5.1},{"s":"Elbe - Dresden","t":"2018-11-05","d":4.3},{"s":"Elbe - Dresden","t":"2018-11-10","d":4.2},{"s":"Elbe - Dresden","t":"2018-11-15","d":4.9},{"s":"Elbe - Dresden","t":"2018-11-20","d":5.3},{"s":"Elbe - Dresden","t":"2018-11-25","d":5.8},{"s":"Elbe - Dresden","t":"2018-11-30","d":6.3},{"s":"Elbe - Dresden","t":"2018-12-05","d":6.5},{"s":"Elbe - Dresden","t":"2018-12-10","d":6.6},{"s":"Elbe - Dresden","t":"2018-12-15","d":6.8},{"s":"Elbe - Dresden","t":"2018-12-20","d":6.5},{"s":"Elbe - Dresden","t":"2018-12-25","d":6.8},{"s":"Elbe - Dresden","t":"2018-12-30","d":7.2},{"s":"Elbe - Dresden","t":"2019-01-04","d":7.8},{"s":"Elbe - Dresden","t":"2019-01-09","d":8.5},{"s":"Elbe - Dresden","t":"2019-01-14","d":8.3},{"s":"Elbe - Dresden","t":"2019-01-19","d":7.8},{"s":"Elbe - Dresden","t":"2019-01-24","d":7.5},{"s":"Elbe - Dresden","t":"2019-01-29","d":7.2},{"s":"Elbe - Dresden","t":"2019-02-01","d":6.8}
],
"rs":[
{"s":"Rhine-Wesel","t":"2018-09-16","h":-66.5,"d":8.2,"m":0},{"s":"Rhine-Wesel","t":"2018-10-01","h":-66,"d":8.0,"m":0},{"s":"Rhine-Wesel","t":"2018-11-01","h":-67.5,"d":8.5,"m":0},{"s":"Rhine-Wesel","t":"2018-12-01","h":-64.5,"d":9.0,"m":0},{"s":"Rhine-Wesel","t":"2019-01-01","h":-61,"d":9.3,"m":0},{"s":"Rhine-Wesel","t":"2019-02-01","h":-62.7,"d":9.4,"m":0},{"s":"Rhine-Wesel","t":"2019-02-17","h":-62.7,"d":9.4,"m":1},
{"s":"Rhine-Koblenz","t":"2018-09-16","h":-70.3,"d":7.8,"m":0},{"s":"Rhine-Koblenz","t":"2018-10-01","h":-71.5,"d":7.7,"m":0},{"s":"Rhine-Koblenz","t":"2018-11-01","h":-73.8,"d":7.8,"m":0},{"s":"Rhine-Koblenz","t":"2018-12-01","h":-72,"d":8.5,"m":0},{"s":"Rhine-Koblenz","t":"2019-01-01","h":-68,"d":8.7,"m":0},{"s":"Rhine-Koblenz","t":"2019-02-01","h":-70.3,"d":7.0,"m":0},{"s":"Rhine-Koblenz","t":"2019-02-17","h":-70.3,"d":7.0,"m":1},
{"s":"Rhine-Worms","t":"2018-09-16","h":-70.3,"d":6.7,"m":0},{"s":"Rhine-Worms","t":"2018-10-01","h":-71,"d":7.5,"m":0},{"s":"Rhine-Worms","t":"2018-11-01","h":-73.5,"d":7.8,"m":0},{"s":"Rhine-Worms","t":"2018-12-01","h":-73,"d":8.6,"m":0},{"s":"Rhine-Worms","t":"2019-01-01","h":-71.5,"d":9.0,"m":0},{"s":"Rhine-Worms","t":"2019-02-01","h":-72,"d":6.6,"m":0},{"s":"Rhine-Worms","t":"2019-02-17","h":-72,"d":6.6,"m":1},
{"s":"Rhine-Breisach","t":"2018-09-16","h":-79,"d":8.5,"m":0},{"s":"Rhine-Breisach","t":"2018-10-01","h":-79.5,"d":9.0,"m":0},{"s":"Rhine-Breisach","t":"2018-11-01","h":-80.5,"d":9.3,"m":0},{"s":"Rhine-Breisach","t":"2018-12-01","h":-77,"d":9.5,"m":0},{"s":"Rhine-Breisach","t":"2019-01-01","h":-77.5,"d":9.5,"m":0},{"s":"Rhine-Breisach","t":"2019-02-01","h":-77.7,"d":9.4,"m":0},{"s":"Rhine-Breisach","t":"2019-02-17","h":-77.7,"d":9.4,"m":1},
{"s":"Rhine-Weil am Rhein","t":"2018-09-16","h":-78.2,"d":8.8,"m":0},{"s":"Rhine-Weil am Rhein","t":"2018-10-01","h":-78,"d":9.2,"m":0},{"s":"Rhine-Weil am Rhein","t":"2018-11-01","h":-79,"d":9.0,"m":0},{"s":"Rhine-Weil am Rhein","t":"2018-12-01","h":-76,"d":9.6,"m":0},{"s":"Rhine-Weil am Rhein","t":"2019-01-01","h":-75.5,"d":8.8,"m":0},{"s":"Rhine-Weil am Rhein","t":"2019-02-01","h":-74.7,"d":10.9,"m":0},{"s":"Rhine-Weil am Rhein","t":"2019-02-17","h":-74.7,"d":10.9,"m":1},
{"s":"Mosel-Koblenz","t":"2019-01-15","h":-50.5,"d":9.6,"m":2},{"s":"Mosel-Koblenz","t":"2019-02-01","h":-52,"d":10.4,"m":0},{"s":"Mosel-Koblenz","t":"2019-02-17","h":-52,"d":10.4,"m":1}
],
"es":[
{"s":"Elbe - Wedel","t":"2018-09-16","h":-51.1,"d":3.8,"m":0},{"s":"Elbe - Wedel","t":"2018-10-01","h":-50.5,"d":4.3,"m":0},{"s":"Elbe - Wedel","t":"2018-11-01","h":-52,"d":4.2,"m":0},{"s":"Elbe - Wedel","t":"2018-12-01","h":-52,"d":4.8,"m":0},{"s":"Elbe - Wedel","t":"2019-01-01","h":-53.2,"d":3.8,"m":0},{"s":"Elbe - Wedel","t":"2019-02-01","h":-55.7,"d":6.9,"m":0},{"s":"Elbe - Wedel","t":"2019-02-17","h":-55.7,"d":6.9,"m":1},
{"s":"Elbe - Geesthacht","t":"2018-09-16","h":-59,"d":6.0,"m":0},{"s":"Elbe - Geesthacht","t":"2018-10-01","h":-59.3,"d":5.3,"m":0},{"s":"Elbe - Geesthacht","t":"2018-11-01","h":-59.5,"d":4.8,"m":0},{"s":"Elbe - Geesthacht","t":"2018-12-01","h":-60.7,"d":5.6,"m":0},{"s":"Elbe - Geesthacht","t":"2019-01-01","h":-60.5,"d":6.3,"m":0},{"s":"Elbe - Geesthacht","t":"2019-02-01","h":-60.4,"d":5.1,"m":0},{"s":"Elbe - Geesthacht","t":"2019-02-17","h":-60.4,"d":5.1,"m":1},
{"s":"Elbe - Tangermünde","t":"2018-09-16","h":-59.6,"d":5.6,"m":0},{"s":"Elbe - Tangermünde","t":"2018-10-01","h":-59.3,"d":5.3,"m":0},{"s":"Elbe - Tangermünde","t":"2018-11-01","h":-59.5,"d":5.0,"m":0},{"s":"Elbe - Tangermünde","t":"2018-12-01","h":-61.6,"d":5.6,"m":0},{"s":"Elbe - Tangermünde","t":"2019-01-01","h":-61.2,"d":5.8,"m":0},{"s":"Elbe - Tangermünde","t":"2019-02-01","h":-60.8,"d":8.5,"m":0},{"s":"Elbe - Tangermünde","t":"2019-02-17","h":-60.8,"d":8.5,"m":1},
{"s":"Elbe - Wittenberg","t":"2018-09-16","h":-59.6,"d":5.6,"m":0},{"s":"Elbe - Wittenberg","t":"2018-10-01","h":-59.5,"d":5.2,"m":0},{"s":"Elbe - Wittenberg","t":"2018-11-01","h":-59.8,"d":5.2,"m":0},{"s":"Elbe - Wittenberg","t":"2018-12-01","h":-61.6,"d":6.0,"m":0},{"s":"Elbe - Wittenberg","t":"2019-01-01","h":-61.8,"d":6.3,"m":0},{"s":"Elbe - Wittenberg","t":"2019-02-01","h":-63,"d":7.2,"m":0},{"s":"Elbe - Wittenberg","t":"2019-02-17","h":-63,"d":7.2,"m":1},
{"s":"Elbe - Dresden","t":"2018-09-16","h":-59.6,"d":5.6,"m":0},{"s":"Elbe - Dresden","t":"2018-10-01","h":-59.5,"d":5.3,"m":0},{"s":"Elbe - Dresden","t":"2018-11-01","h":-60,"d":5.3,"m":0},{"s":"Elbe - Dresden","t":"2018-12-01","h":-62,"d":6.2,"m":0},{"s":"Elbe - Dresden","t":"2019-01-01","h":-62.2,"d":6.5,"m":0},{"s":"Elbe - Dresden","t":"2019-02-01","h":-62,"d":7.0,"m":0},{"s":"Elbe - Dresden","t":"2019-02-17","h":-62,"d":7.0,"m":1}
]
},
"concat":[
{
 "width":215,"height":33,"view":{"stroke":null},
 "data":{"name":"rp"},
 "mark":{"type":"bar","width":1.5,"color":"#555"},
 "encoding":{
  "x":{"field":"t","type":"temporal","scale":{"type":"utc","nice":false,"domain":[{"year":2018,"month":9,"date":16,"utc":true},{"year":2019,"month":2,"date":17,"utc":true}]},
   "axis":{"orient":"top","title":"2018 / 2019","titlePadding":5,"titleFontSize":10,"labelFontSize":10,"grid":true,"domain":false,"ticks":false,"labelPadding":2,"values":[{"year":2018,"month":10,"date":1,"utc":true},{"year":2018,"month":11,"date":1,"utc":true},{"year":2018,"month":12,"date":1,"utc":true},{"year":2019,"month":1,"date":1,"utc":true},{"year":2019,"month":2,"date":1,"utc":true}],"labelExpr":"['Jan','Feb','Mär','Apr','Mai','Jun','Jul','Aug','Sep','Okt','Nov','Dez'][utcmonth(datum.value)]"}},
  "y":{"field":"p","type":"quantitative","scale":{"domain":[0,15],"reverse":true,"nice":false},"axis":{"title":"P (mm/day)","values":[0,5,10,15]}}
 }
},
{
 "width":214,"height":33,"view":{"stroke":null},
 "data":{"name":"ep"},
 "mark":{"type":"bar","width":1.5,"color":"#555"},
 "encoding":{
  "x":{"field":"t","type":"temporal","scale":{"type":"utc","nice":false,"domain":[{"year":2018,"month":9,"date":16,"utc":true},{"year":2019,"month":2,"date":17,"utc":true}]},
   "axis":{"orient":"top","title":"2018 / 2019","titlePadding":5,"titleFontSize":10,"labelFontSize":10,"grid":true,"domain":false,"ticks":false,"labelPadding":2,"values":[{"year":2018,"month":10,"date":1,"utc":true},{"year":2018,"month":11,"date":1,"utc":true},{"year":2018,"month":12,"date":1,"utc":true},{"year":2019,"month":1,"date":1,"utc":true},{"year":2019,"month":2,"date":1,"utc":true}],"labelExpr":"['Jan','Feb','Mär','Apr','Mai','Jun','Jul','Aug','Sep','Okt','Nov','Dez'][utcmonth(datum.value)]"}},
  "y":{"field":"p","type":"quantitative","scale":{"domain":[0,15],"reverse":true,"nice":false},"axis":{"title":null,"values":[0,5,10,15]}}
 }
},
{
 "width":215,"height":33,"view":{"stroke":null},
 "title":{"text":"Rhine basin","anchor":"start","frame":"group","fontSize":12.5,"fontWeight":"normal","offset":1,"dx":27,"color":"#111"},
 "data":{"name":"rq"},
 "transform":[{"calculate":"'Rhine - Boxdorf'","as":"s"}],
 "mark":{"type":"line","strokeWidth":1.2},
 "encoding":{
  "x":{"field":"t","type":"temporal","scale":{"type":"utc","nice":false,"domain":[{"year":2018,"month":9,"date":16,"utc":true},{"year":2019,"month":2,"date":17,"utc":true}]},
   "axis":{"orient":"bottom","title":null,"labels":false,"ticks":false,"grid":true,"values":[{"year":2018,"month":10,"date":1,"utc":true},{"year":2018,"month":11,"date":1,"utc":true},{"year":2018,"month":12,"date":1,"utc":true},{"year":2019,"month":1,"date":1,"utc":true},{"year":2019,"month":2,"date":1,"utc":true}]}},
  "y":{"field":"q","type":"quantitative","scale":{"domain":[0,3800],"nice":false},"axis":{"title":"Q (m³/s)","values":[0,1000,2000,3000],"format":"d","labelFontSize":6.5}},
  "stroke":{"field":"s","type":"nominal","scale":{"range":["#444"]},"legend":{"orient":"top-left","offset":6,"title":null,"symbolType":"stroke","symbolSize":100,"symbolStrokeWidth":1.3,"labelFontSize":6.5,"padding":3,"strokeColor":"#333","fillColor":"#fff"}}
 }
},
{
 "width":214,"height":33,"view":{"stroke":null},
 "title":{"text":"Elbe basin","anchor":"start","frame":"group","fontSize":12.5,"fontWeight":"normal","offset":1,"dx":22,"color":"#111"},
 "data":{"name":"eq"},
 "transform":[{"calculate":"'Elbe - Tangermuende'","as":"s"}],
 "mark":{"type":"line","strokeWidth":1.2},
 "encoding":{
  "x":{"field":"t","type":"temporal","scale":{"type":"utc","nice":false,"domain":[{"year":2018,"month":9,"date":16,"utc":true},{"year":2019,"month":2,"date":17,"utc":true}]},
   "axis":{"orient":"bottom","title":null,"labels":false,"ticks":false,"grid":true,"values":[{"year":2018,"month":10,"date":1,"utc":true},{"year":2018,"month":11,"date":1,"utc":true},{"year":2018,"month":12,"date":1,"utc":true},{"year":2019,"month":1,"date":1,"utc":true},{"year":2019,"month":2,"date":1,"utc":true}]}},
  "y":{"field":"q","type":"quantitative","scale":{"domain":[0,3800],"nice":false},"axis":{"title":null,"values":[0,1000,2000,3000],"format":"d","labelFontSize":6.5}},
  "stroke":{"field":"s","type":"nominal","scale":{"range":["#444"]},"legend":{"orient":"top-left","offset":7,"title":null,"symbolType":"stroke","symbolSize":100,"symbolStrokeWidth":1.3,"labelFontSize":6.5,"padding":3,"strokeColor":"#333","fillColor":"#fff"}}
 }
},
{
 "width":215,"height":137,
 "encoding":{
  "x":{"field":"t","type":"temporal","scale":{"type":"utc","nice":false,"domain":[{"year":2018,"month":9,"date":16,"utc":true},{"year":2019,"month":2,"date":17,"utc":true}]},
   "axis":{"orient":"bottom","title":null,"labels":false,"grid":true,"domain":false,"values":[{"year":2018,"month":10,"date":1,"utc":true},{"year":2018,"month":11,"date":1,"utc":true},{"year":2018,"month":12,"date":1,"utc":true},{"year":2019,"month":1,"date":1,"utc":true},{"year":2019,"month":2,"date":1,"utc":true}]}},
  "y":{"field":"h","type":"quantitative","scale":{"domain":[-85,-40],"nice":false},"axis":{"title":"δ²H (‰ VSMOW)","values":[-80,-70,-60,-50,-40],"domain":false}}
 },
 "layer":[
  {"data":{"name":"rs"},"transform":[{"filter":"datum.m < 2"}],
   "mark":{"type":"line","interpolate":"step-after","color":"#999","strokeWidth":0.8},
   "encoding":{"detail":{"field":"s"}}},
  {"data":{"name":"rh"},
   "mark":{"type":"line","strokeWidth":1},
   "encoding":{"detail":{"field":"g"},
    "stroke":{"field":"s","type":"nominal","scale":{"domain":["Mosel-Koblenz","Rhine-Wesel","Rhine-Koblenz","Rhine-Worms","Rhine-Breisach","Rhine-Weil am Rhein"],"range":["#80801a","#3a3a3a","#808080","#7a7a7a","#4a4a4a","#000000"]},"legend":null}}},
  {"data":{"name":"rh"},
   "mark":{"type":"point","filled":true,"size":9,"strokeWidth":0.6,"opacity":1},
   "encoding":{
    "stroke":{"field":"s","type":"nominal","legend":null},
    "fill":{"field":"s","type":"nominal","scale":{"domain":["Mosel-Koblenz","Rhine-Wesel","Rhine-Koblenz","Rhine-Worms","Rhine-Breisach","Rhine-Weil am Rhein"],"range":["#e6e640","#9a9a9a","#ffffff","#c8c8c8","#606060","#000000"]},"legend":null}}},
  {"data":{"name":"rs"},"transform":[{"filter":"datum.m > 0"}],
   "mark":{"type":"point","filled":true,"size":20,"strokeWidth":0.7,"opacity":1},
   "encoding":{
    "stroke":{"field":"s","type":"nominal","legend":null},
    "fill":{"field":"s","type":"nominal","legend":null}}}
 ]
},
{
 "width":214,"height":137,
 "encoding":{
  "x":{"field":"t","type":"temporal","scale":{"type":"utc","nice":false,"domain":[{"year":2018,"month":9,"date":16,"utc":true},{"year":2019,"month":2,"date":17,"utc":true}]},
   "axis":{"orient":"bottom","title":null,"labels":false,"grid":true,"domain":false,"values":[{"year":2018,"month":10,"date":1,"utc":true},{"year":2018,"month":11,"date":1,"utc":true},{"year":2018,"month":12,"date":1,"utc":true},{"year":2019,"month":1,"date":1,"utc":true},{"year":2019,"month":2,"date":1,"utc":true}]}},
  "y":{"field":"h","type":"quantitative","scale":{"domain":[-85,-40],"nice":false},"axis":{"title":null,"values":[-80,-70,-60,-50,-40],"domain":false}}
 },
 "layer":[
  {"data":{"name":"es"},"transform":[{"filter":"datum.m < 2"}],
   "mark":{"type":"line","interpolate":"step-after","color":"#999","strokeWidth":0.8},
   "encoding":{"detail":{"field":"s"}}},
  {"data":{"name":"eh"},
   "mark":{"type":"line","strokeWidth":1},
   "encoding":{
    "stroke":{"field":"s","type":"nominal","scale":{"domain":["Elbe - Wedel","Elbe - Geesthacht","Elbe - Tangermünde","Elbe - Wittenberg","Elbe - Dresden"],"range":["#2a2a2a","#808080","#7a7a7a","#4a4a4a","#000000"]}}}},
  {"data":{"name":"eh"},
   "mark":{"type":"point","filled":true,"size":9,"strokeWidth":0.6,"opacity":1},
   "encoding":{
    "stroke":{"field":"s","type":"nominal"},
    "fill":{"field":"s","type":"nominal","scale":{"domain":["Elbe - Wedel","Elbe - Geesthacht","Elbe - Tangermünde","Elbe - Wittenberg","Elbe - Dresden"],"range":["#9a9a9a","#ffffff","#c8c8c8","#606060","#000000"]},
     "legend":{"orient":"none","legendX":7,"legendY":118,"title":null,"symbolType":"M-2.3,0H-0.55M0.55,0H2.3M-0.55,0A0.55,0.55,0,1,0,0.55,0A0.55,0.55,0,1,0,-0.55,0Z","symbolSize":49,"symbolOffset":5,"labelOffset":9,"symbolStrokeWidth":0.8,"labelFontSize":7,"rowPadding":0,"padding":3,"strokeColor":"#333","fillColor":"#fff"}}}},
  {"data":{"name":"es"},"transform":[{"filter":"datum.m > 0"}],
   "mark":{"type":"point","filled":true,"size":20,"strokeWidth":0.7,"opacity":1},
   "encoding":{
    "stroke":{"field":"s","type":"nominal"},
    "fill":{"field":"s","type":"nominal"}}}
 ]
},
{
 "width":215,"height":136,
 "encoding":{
  "x":{"field":"t","type":"temporal","scale":{"type":"utc","nice":false,"domain":[{"year":2018,"month":9,"date":16,"utc":true},{"year":2019,"month":2,"date":17,"utc":true}]},
   "axis":{"orient":"bottom","title":"2018 / 2019","titleFontSize":10,"labelFontSize":10,"titlePadding":3,"grid":true,"domain":false,"values":[{"year":2018,"month":10,"date":1,"utc":true},{"year":2018,"month":11,"date":1,"utc":true},{"year":2018,"month":12,"date":1,"utc":true},{"year":2019,"month":1,"date":1,"utc":true},{"year":2019,"month":2,"date":1,"utc":true}],"labelExpr":"['Jan','Feb','Mär','Apr','Mai','Jun','Jul','Aug','Sep','Okt','Nov','Dez'][utcmonth(datum.value)]"}},
  "y":{"field":"d","type":"quantitative","scale":{"domain":[0,14],"nice":false},"axis":{"title":"d-excess (‰ VSMOW)","values":[0,2,4,6,8,10,12,14],"domain":false}}
 },
 "layer":[
  {"data":{"name":"rs"},"transform":[{"filter":"datum.m < 2"}],
   "mark":{"type":"line","interpolate":"step-after","color":"#999","strokeWidth":0.8},
   "encoding":{"detail":{"field":"s"}}},
  {"data":{"name":"rd"},
   "mark":{"type":"line","strokeWidth":1},
   "encoding":{"detail":{"field":"g"},
    "stroke":{"field":"s","type":"nominal","scale":{"domain":["Mosel-Koblenz","Rhine-Wesel","Rhine-Koblenz","Rhine-Worms","Rhine-Breisach","Rhine-Weil am Rhein"],"range":["#80801a","#3a3a3a","#808080","#7a7a7a","#4a4a4a","#000000"]}}}},
  {"data":{"name":"rd"},
   "mark":{"type":"point","filled":true,"size":9,"strokeWidth":0.6,"opacity":1},
   "encoding":{
    "stroke":{"field":"s","type":"nominal"},
    "fill":{"field":"s","type":"nominal","scale":{"domain":["Mosel-Koblenz","Rhine-Wesel","Rhine-Koblenz","Rhine-Worms","Rhine-Breisach","Rhine-Weil am Rhein"],"range":["#e6e640","#9a9a9a","#ffffff","#c8c8c8","#606060","#000000"]},
     "legend":{"orient":"bottom-right","offset":7,"title":null,"symbolType":"M-2.3,0H-0.55M0.55,0H2.3M-0.55,0A0.55,0.55,0,1,0,0.55,0A0.55,0.55,0,1,0,-0.55,0Z","symbolSize":49,"symbolOffset":5,"labelOffset":9,"symbolStrokeWidth":0.8,"labelFontSize":7.5,"rowPadding":0,"padding":3,"strokeColor":"#333","fillColor":"#fff"}}}},
  {"data":{"name":"rs"},"transform":[{"filter":"datum.m > 0"}],
   "mark":{"type":"point","filled":true,"size":20,"strokeWidth":0.7,"opacity":1},
   "encoding":{
    "stroke":{"field":"s","type":"nominal"},
    "fill":{"field":"s","type":"nominal"}}}
 ]
},
{
 "width":214,"height":136,
 "encoding":{
  "x":{"field":"t","type":"temporal","scale":{"type":"utc","nice":false,"domain":[{"year":2018,"month":9,"date":16,"utc":true},{"year":2019,"month":2,"date":17,"utc":true}]},
   "axis":{"orient":"bottom","title":"2018 / 2019","titleFontSize":10,"labelFontSize":10,"titlePadding":3,"grid":true,"domain":false,"values":[{"year":2018,"month":10,"date":1,"utc":true},{"year":2018,"month":11,"date":1,"utc":true},{"year":2018,"month":12,"date":1,"utc":true},{"year":2019,"month":1,"date":1,"utc":true},{"year":2019,"month":2,"date":1,"utc":true}],"labelExpr":"['Jan','Feb','Mär','Apr','Mai','Jun','Jul','Aug','Sep','Okt','Nov','Dez'][utcmonth(datum.value)]"}},
  "y":{"field":"d","type":"quantitative","scale":{"domain":[0,14],"nice":false},"axis":{"title":null,"values":[0,2,4,6,8,10,12,14],"domain":false}}
 },
 "layer":[
  {"data":{"name":"es"},"transform":[{"filter":"datum.m < 2"}],
   "mark":{"type":"line","interpolate":"step-after","color":"#999","strokeWidth":0.8},
   "encoding":{"detail":{"field":"s"}}},
  {"data":{"name":"ed"},
   "mark":{"type":"line","strokeWidth":1},
   "encoding":{
    "stroke":{"field":"s","type":"nominal","scale":{"domain":["Elbe - Wedel","Elbe - Geesthacht","Elbe - Tangermünde","Elbe - Wittenberg","Elbe - Dresden"],"range":["#2a2a2a","#808080","#7a7a7a","#4a4a4a","#000000"]},"legend":null}}},
  {"data":{"name":"ed"},
   "mark":{"type":"point","filled":true,"size":9,"strokeWidth":0.6,"opacity":1},
   "encoding":{
    "stroke":{"field":"s","type":"nominal","legend":null},
    "fill":{"field":"s","type":"nominal","scale":{"domain":["Elbe - Wedel","Elbe - Geesthacht","Elbe - Tangermünde","Elbe - Wittenberg","Elbe - Dresden"],"range":["#9a9a9a","#ffffff","#c8c8c8","#606060","#000000"]},"legend":null}}},
  {"data":{"name":"es"},"transform":[{"filter":"datum.m > 0"}],
   "mark":{"type":"point","filled":true,"size":20,"strokeWidth":0.7,"opacity":1},
   "encoding":{
    "stroke":{"field":"s","type":"nominal","legend":null},
    "fill":{"field":"s","type":"nominal","legend":null}}}
 ]
}
]
}
